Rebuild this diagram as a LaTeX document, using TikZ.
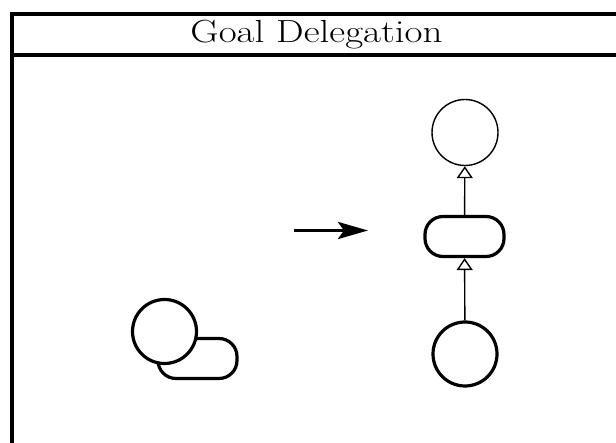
\documentclass[tikz,border=0pt]{standalone}
\usepackage{tikz}
\usepackage{graphicx}
\usetikzlibrary{arrows.meta}

\begin{document}
\begin{tikzpicture}[x=1pt, y=-1pt, >=Latex,
    goal/.style={circle, draw, fill=white, inner sep=0pt, minimum size=64pt, line width=3.2pt},
    softgoal/.style={goal, line width=1.4pt, minimum size=66pt},
    plan/.style={rectangle, draw, fill=white, rounded corners=18pt, inner sep=0pt,
      minimum width=79pt, minimum height=40pt, line width=3.2pt},
    delegate/.style={line width=1.4pt, -{Triangle[open, length=12pt, width=16pt, line width=1.4pt]}}]
    \useasboundingbox (0,0) rectangle (616,443);
    % frame
    \draw[line width=3.6pt] (12,443) -- (12,14) -- (616,14);
    \draw[line width=3.6pt] (12,55) -- (616,55);
    \node[anchor=base, font=\fontsize{32}{38}\selectfont] (title) at (316.5,43)
      {\scalebox{1.22}[1]{Goal Delegation}};
    % before
    \node[plan] (p1) at (197.5,358.5) {};
    \node[goal] (g1) at (164.5,331.5) {};
    % transformation arrow
    \coordinate (from) at (294,230.5);
    \coordinate (to) at (368,230.5);
    \draw[line width=3.6pt, -{Stealth[length=30pt, width=17pt, inset=6pt]}] (from) -- (to);
    % after
    \node[softgoal] (g2) at (465,132.5) {};
    \node[plan] (p2) at (464.5,236.5) {};
    \node[goal] (g3) at (465,354) {};
    \draw[delegate] (g3) -- (p2);
    \draw[delegate] (p2) -- (g2);
  \end{tikzpicture}
\end{document}
